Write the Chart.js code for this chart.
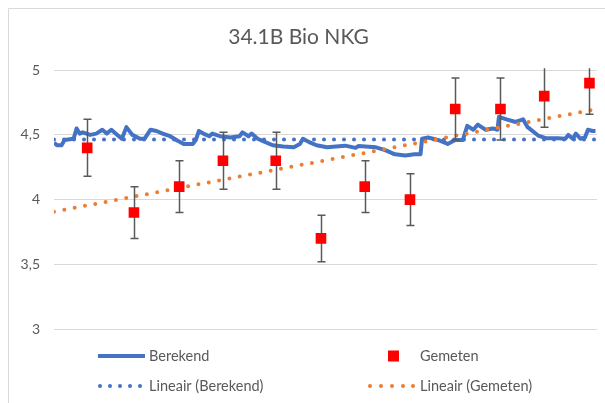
<!DOCTYPE html>
<html>
<head>
<meta charset="utf-8">
<script src="https://cdn.jsdelivr.net/npm/chart.js@4/dist/chart.umd.min.js"></script>
<style>
  html, body { margin: 0; padding: 0; background: #fff; }
  #wrap { width: 605px; height: 403px; position: relative; }
</style>
</head>
<body>
<div id="wrap"><canvas id="chart" width="605" height="403"></canvas></div>
<script>
// Berekend (calculated) series: day number and value
const berekendDag = [0, 2, 5, 7, 13, 15, 17, 19, 24, 28, 32, 35, 38, 42, 45, 48, 52, 57, 60, 64,
    68, 72, 77, 82, 86, 92, 94, 96, 99, 103, 105, 110, 117, 123, 125, 129, 131, 135, 139, 145,
    152, 159, 163, 165, 170, 174, 181, 193, 200, 202, 213, 220, 226, 233, 239, 243, 244, 248, 255, 261,
    266, 271, 274, 278, 281, 286, 291, 294, 295, 300, 306, 311, 314, 321, 326, 334, 339, 341, 344, 346,
    349, 352, 354, 357, 359];
const berekendWaarde = [4.44, 4.42, 4.42, 4.46, 4.47, 4.55, 4.51, 4.52, 4.50, 4.51, 4.54, 4.51, 4.54, 4.50, 4.47, 4.56, 4.50, 4.47, 4.47, 4.54,
    4.53, 4.51, 4.49, 4.455, 4.43, 4.43, 4.46, 4.53, 4.51, 4.49, 4.51, 4.49, 4.48, 4.49, 4.52, 4.49, 4.51, 4.47, 4.45, 4.42,
    4.41, 4.405, 4.43, 4.47, 4.44, 4.42, 4.405, 4.417, 4.40, 4.415, 4.405, 4.38, 4.35, 4.34, 4.35, 4.35, 4.47, 4.48, 4.46, 4.43,
    4.46, 4.46, 4.57, 4.54, 4.58, 4.54, 4.55, 4.54, 4.64, 4.62, 4.60, 4.62, 4.56, 4.495, 4.475, 4.475, 4.47, 4.50, 4.47, 4.51,
    4.47, 4.48, 4.54, 4.53, 4.53];

// Lineair (Berekend) trendline, start and end value
const lineairBerekend = [4.465, 4.465];

// Gemeten (measured) points with error margins
const gemetenDag = [22, 53, 83, 112, 147, 177, 206, 236, 266, 296, 325, 355];
const gemetenWaarde = [4.4, 3.9, 4.1, 4.3, 4.3, 3.7, 4.1, 4.0, 4.7, 4.7, 4.8, 4.9];
const gemetenFout = [0.22, 0.2, 0.2, 0.22, 0.22, 0.18, 0.2, 0.2, 0.24, 0.24, 0.24, 0.24];

const yMin = 3, yMax = 5, yStep = 0.5;
const xMin = 0, xMax = 360;

const textColor = '#595959';
const gridColor = '#d9d9d9';
const blue = '#4472c4';
const orange = '#ed7d31';
const red = '#ff0000';
const fontFamily = 'Lato, "Open Sans", sans-serif';

// least squares trendline across the x range
function trend(xs, ys) {
    const n = xs.length;
    const mx = xs.reduce((a, b) => a + b, 0) / n;
    const my = ys.reduce((a, b) => a + b, 0) / n;
    let sxy = 0, sxx = 0;
    for (let i = 0; i < n; i++) {
        sxy += (xs[i] - mx) * (ys[i] - my);
        sxx += (xs[i] - mx) * (xs[i] - mx);
    }
    const b = sxy / sxx;
    const a = my - b * mx;
    return [{ x: xMin, y: a + b * xMin }, { x: xMax, y: a + b * xMax }];
}

const toPoints = (xs, ys) => xs.map((x, i) => ({ x: x, y: ys[i] }));

// frame + white background
const framePlugin = {
    id: 'frame',
    beforeDraw(chart) {
        const ctx = chart.ctx;
        ctx.save();
        ctx.fillStyle = '#fff';
        ctx.fillRect(0, 0, chart.width, chart.height);
        ctx.strokeStyle = gridColor;
        ctx.lineWidth = 1;
        ctx.beginPath();
        ctx.moveTo(8.5, chart.height);
        ctx.lineTo(8.5, 8.5);
        ctx.lineTo(chart.width, 8.5);
        ctx.stroke();
        ctx.restore();
    }
};

// error bars behind the red squares
const errorBarPlugin = {
    id: 'errorBars',
    beforeDatasetDraw(chart, args) {
        if (args.meta.label !== 'Gemeten') return;
        const ctx = chart.ctx;
        const xs = chart.scales.x, ys = chart.scales.y;
        const area = chart.chartArea;
        ctx.save();
        ctx.beginPath();
        ctx.rect(area.left, area.top - 2, area.right - area.left, area.bottom - area.top + 2);
        ctx.clip();
        ctx.strokeStyle = '#595959';
        ctx.lineWidth = 1.5;
        gemetenDag.forEach((d, i) => {
            const px = Math.round(xs.getPixelForValue(d)) + 0.5;
            const top = ys.getPixelForValue(gemetenWaarde[i] + gemetenFout[i]);
            const bot = ys.getPixelForValue(gemetenWaarde[i] - gemetenFout[i]);
            ctx.beginPath();
            ctx.moveTo(px, top); ctx.lineTo(px, bot);
            ctx.moveTo(px - 4, top); ctx.lineTo(px + 4, top);
            ctx.moveTo(px - 4, bot); ctx.lineTo(px + 4, bot);
            ctx.stroke();
        });
        ctx.restore();
    }
};

// Excel style 2x2 legend under the plot
const legendPlugin = {
    id: 'excelLegend',
    afterDraw(chart) {
        const ctx = chart.ctx;
        const row1 = 356, row2 = 386;
        ctx.save();
        ctx.font = '14.5px ' + fontFamily;
        ctx.fillStyle = textColor;
        ctx.textBaseline = 'middle';
        ctx.textAlign = 'left';

        ctx.strokeStyle = blue;
        ctx.lineWidth = 4;
        ctx.beginPath();
        ctx.moveTo(98, row1); ctx.lineTo(145, row1);
        ctx.stroke();
        ctx.fillText('Berekend', 149, row1);

        ctx.fillStyle = red;
        ctx.fillRect(388, row1 - 5.5, 11, 11);
        ctx.fillStyle = textColor;
        ctx.fillText('Gemeten', 420, row1);

        ctx.fillStyle = blue;
        [100, 110, 120, 130, 140].forEach(x => {
            ctx.beginPath(); ctx.arc(x, row2, 2, 0, Math.PI * 2); ctx.fill();
        });
        ctx.fillStyle = textColor;
        ctx.fillText('Lineair (Berekend)', 149, row2);

        ctx.fillStyle = orange;
        [370, 381, 392, 403, 413].forEach(x => {
            ctx.beginPath(); ctx.arc(x, row2, 2, 0, Math.PI * 2); ctx.fill();
        });
        ctx.fillStyle = textColor;
        ctx.fillText('Lineair (Gemeten)', 420, row2);
        ctx.restore();
    }
};

const ctx = document.getElementById('chart').getContext('2d');
new Chart(ctx, {
    type: 'scatter',
    data: {
        datasets: [
            {
                label: 'Gemeten',
                data: toPoints(gemetenDag, gemetenWaarde),
                pointStyle: 'rect',
                pointRadius: 7.5,
                pointBackgroundColor: red,
                pointBorderWidth: 0,
                showLine: false,
                order: 1
            },
            {
                label: 'Lineair (Gemeten)',
                data: trend(gemetenDag, gemetenWaarde),
                showLine: true,
                borderColor: orange,
                borderWidth: 4,
                borderDash: [0, 10.5],
                borderCapStyle: 'round',
                pointRadius: 0,
                order: 2
            },
            {
                label: 'Lineair (Berekend)',
                data: toPoints([xMin, xMax], lineairBerekend),
                showLine: true,
                borderColor: blue,
                borderWidth: 4,
                borderDash: [0, 10],
                borderCapStyle: 'round',
                pointRadius: 0,
                order: 3
            },
            {
                label: 'Berekend',
                data: toPoints(berekendDag, berekendWaarde),
                showLine: true,
                borderColor: blue,
                borderWidth: 4,
                borderJoinStyle: 'round',
                pointRadius: 0,
                tension: 0,
                order: 4
            }
        ]
    },
    options: {
        responsive: false,
        animation: false,
        layout: { padding: { left: 0, right: 8, top: 0, bottom: 74 } },
        plugins: {
            legend: { display: false },
            tooltip: { enabled: false },
            title: {
                display: true,
                text: '34.1B Bio NKG',
                color: textColor,
                font: { family: fontFamily, size: 21, weight: 'normal' },
                padding: { top: 25, bottom: 20 }
            }
        },
        scales: {
            x: { type: 'linear', min: xMin, max: xMax, display: false },
            y: {
                min: yMin,
                max: yMax,
                afterFit(scale) { scale.width = 54; },
                border: { display: false },
                grid: { color: gridColor, lineWidth: 1, drawTicks: false },
                ticks: {
                    stepSize: yStep,
                    padding: 14,
                    color: textColor,
                    font: { family: fontFamily, size: 14 },
                    callback: v => String(v).replace('.', ',')
                }
            }
        }
    },
    plugins: [framePlugin, errorBarPlugin, legendPlugin]
});
</script>
</body>
</html>
